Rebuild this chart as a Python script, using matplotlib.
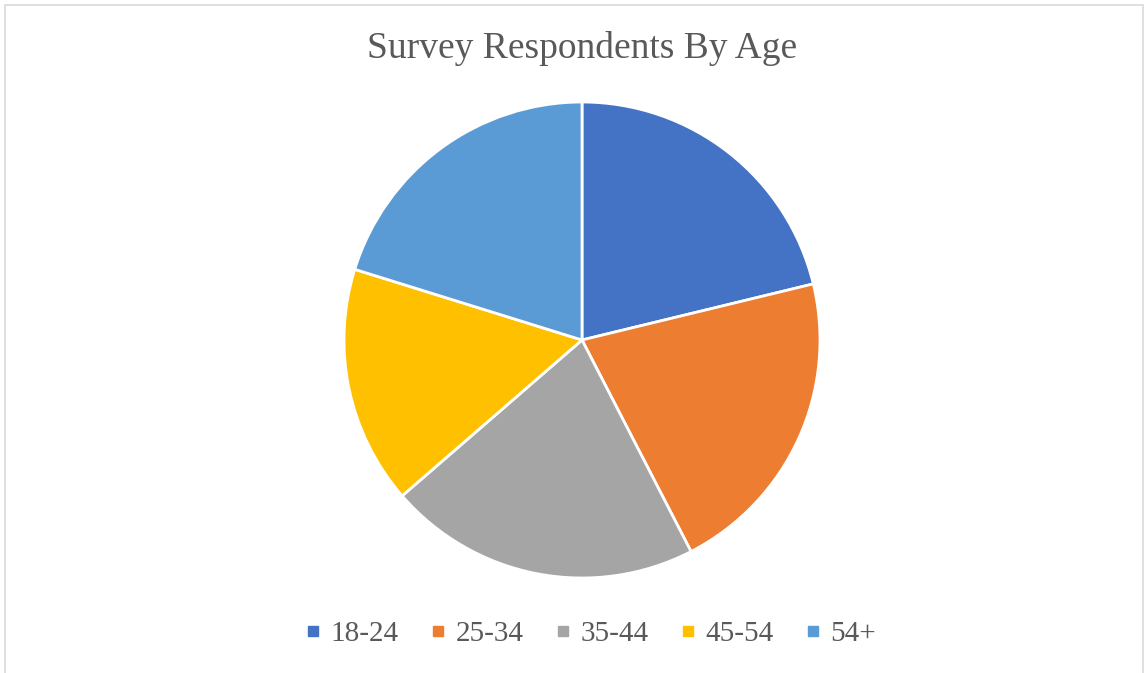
import matplotlib.pyplot as plt
from matplotlib.lines import Line2D
from matplotlib.patches import Rectangle

labels = ['18-24', '25-34', '35-44', '45-54', '54+']
counts = [21, 21, 21, 16, 20]
colors = ['#4472C4', '#ED7D31', '#A5A5A5', '#FFC000', '#5B9BD5']

plt.rcParams['font.family'] = ['Liberation Serif', 'DejaVu Serif']
W, H = 1146, 673
fig = plt.figure(figsize=(W / 100, H / 100), dpi=100)

# chart border
fig.patches.append(Rectangle((5 / W, -0.01), 1138 / W, 1 - 5 / H + 0.01,
                             transform=fig.transFigure, fill=False,
                             edgecolor='#D9D9D9', linewidth=1.2))

cx, cy, r = 582, 340, 238
ax = fig.add_axes([(cx - r) / W, (H - cy - r) / H, 2 * r / W, 2 * r / H])
ax.pie(counts, colors=colors, startangle=90, counterclock=False,
       wedgeprops=dict(edgecolor='white', linewidth=2))
ax.set_aspect('equal')
ax.set_xlim(-1, 1)
ax.set_ylim(-1, 1)

fig.text(582 / W, 1 - 48 / H, 'Survey Respondents By Age', ha='center', va='center',
         fontsize=27, color='#595959')

handles = [Line2D([], [], marker='s', linestyle='none', markersize=7.5,
                  markerfacecolor=c, markeredgecolor=c) for c in colors]
fig.legend(handles, labels, loc='center', bbox_to_anchor=(590 / W, 1 - 634 / H),
           ncol=5, frameon=False, fontsize=21, labelcolor='#595959',
           handlelength=0.6, handletextpad=0.3, columnspacing=1.05)

fig.savefig('out.png', dpi=100, facecolor='white')
